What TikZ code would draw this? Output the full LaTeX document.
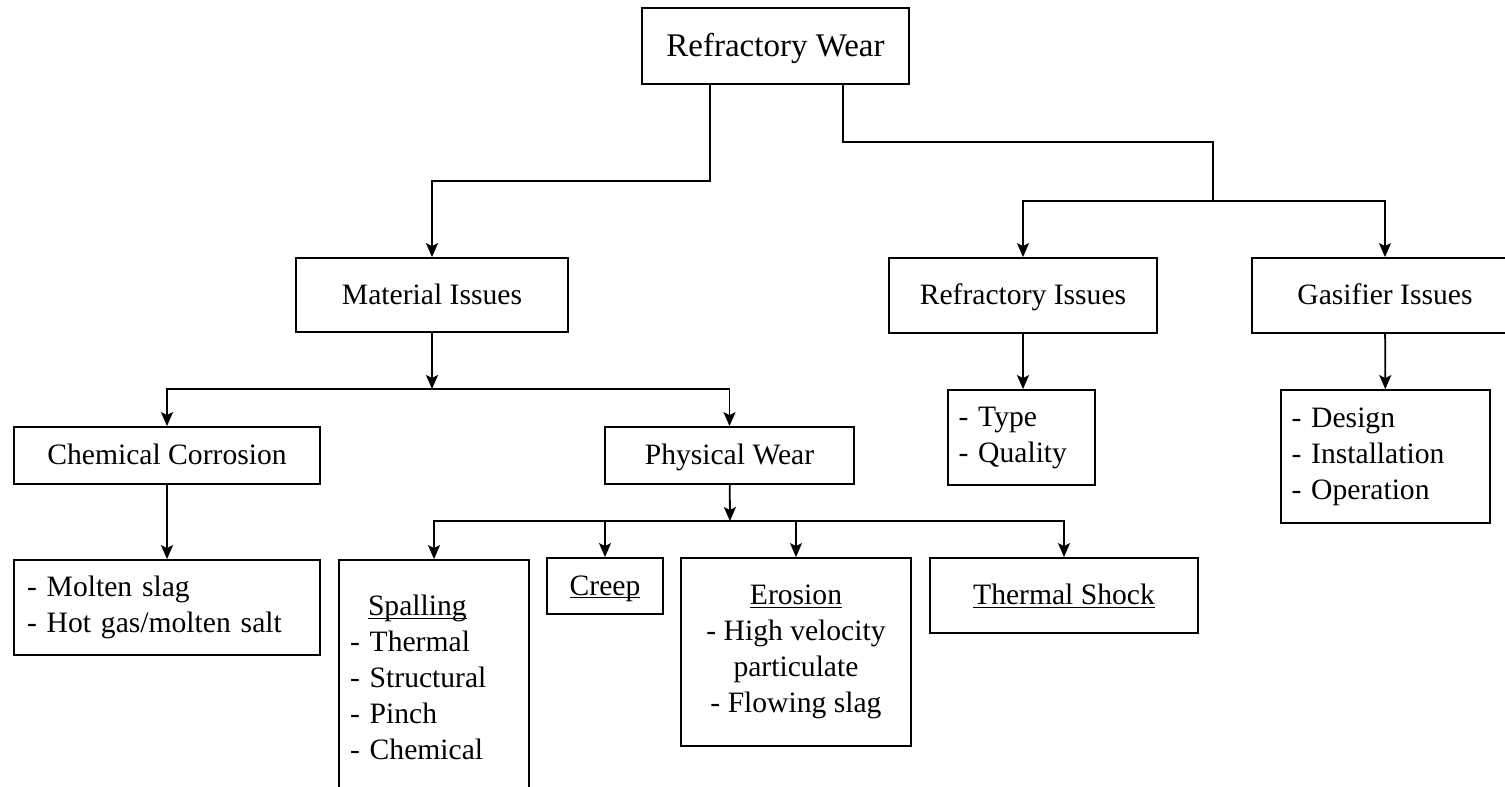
\documentclass[tikz,border=0pt]{standalone}
\usepackage{fontspec}
\setmainfont{Liberation Serif}
\usetikzlibrary{arrows.meta}
\newcommand{\undl}[1]{\setbox0\hbox{#1}\rlap{\rule[-1.6pt]{\wd0}{0.6pt}}\box0}

\begin{document}
\begin{tikzpicture}[x=0.5pt,y=-0.5pt,line width=0.9pt,
  list/.style={draw,rectangle,inner sep=0pt,font=\fontsize{14.8pt}{18pt}\selectfont,align=left},
  box/.style={list,align=center,text height=12pt,text depth=3pt},
  arr/.style={-{Stealth[length=7pt,width=6pt,inset=1.5pt]}}]
  \useasboundingbox (0,0) rectangle (1505,787);
  % top levels
  \node[box,minimum width=133.5pt,minimum height=38pt,font=\fontsize{16.5pt}{19pt}\selectfont,text height=13.3pt,text depth=3.3pt] (rw) at (775.5,46) {Refractory Wear};
  \node[box,minimum width=136pt,minimum height=37pt] (mi) at (432,295) {Material Issues};
  \node[box,minimum width=134pt,minimum height=37.5pt] (ri) at (1023,295.5) {Refractory Issues};
  \node[box,minimum width=133pt,minimum height=37.5pt] (gi) at (1385,295.5) {Gasifier Issues};
  \node[box,minimum width=153pt,minimum height=28.5pt] (cc) at (167,455.5) {Chemical Corrosion};
  \node[box,minimum width=124.5pt,minimum height=28.5pt] (pw) at (729.5,455.5) {Physical Wear};
  % lists
  \node[list,minimum width=153pt,minimum height=47.5pt,text width=140pt] (cl) at (167,607.5) {- Molten slag\\- Hot gas/molten salt};
  \node[list,minimum width=73.5pt,minimum height=47.5pt,text width=63pt] (rl) at (1021.5,437.5) {- Type\\- Quality};
  \node[list,minimum width=104.5pt,minimum height=66.5pt,text width=94pt] (gl) at (1385.5,456.5) {- Design\\- Installation\\- Operation};
  \node[list,minimum width=95pt,minimum height=117.5pt,text width=84pt] (sp) at (434,677.5) {\hspace*{9pt}\undl{Spalling}\\- Thermal\\- Structural\\- Pinch\\- Chemical};
  \node[box,minimum width=58pt,minimum height=28pt] (cr) at (605,586) {\undl{Creep}};
  \node[list,minimum width=115pt,minimum height=94pt,align=center] (er) at (796,652) {\undl{Erosion}\\- High velocity\\particulate\\- Flowing slag};
  \node[box,minimum width=134pt,minimum height=37.5pt] (ts) at (1064,595.5) {\undl{Thermal Shock}};
  % junctions
  \coordinate (k1) at (432,181);
  \coordinate (k2) at (1213,142);
  \coordinate (k3) at (1213,201);
  \coordinate (k4) at (432,389);
  \coordinate (k5) at (730,521);
  % connectors
  \draw[arr] ([xshift=-32.75pt]rw.south) |- (k1) -- (mi);
  \draw ([xshift=33.75pt]rw.south) |- (k2) -- (k3);
  \draw[arr] (k3) -| (ri);
  \draw[arr] (k3) -| (gi);
  \draw[arr] (mi) -- (k4);
  \draw[arr] (k4) -| (cc);
  \draw[arr] (k4) -| (pw);
  \draw[arr] (cc) -- (cl);
  \draw[arr] (ri) -- (ri |- rl.north);
  \draw[arr] (gi) -- (gl);
  \draw[arr] (pw) -- (k5);
  \draw[arr] (k5) -| (sp);
  \draw[arr] (k5) -| (cr);
  \draw[arr] (k5) -| (er);
  \draw[arr] (k5) -| (ts);
\end{tikzpicture}
\end{document}
